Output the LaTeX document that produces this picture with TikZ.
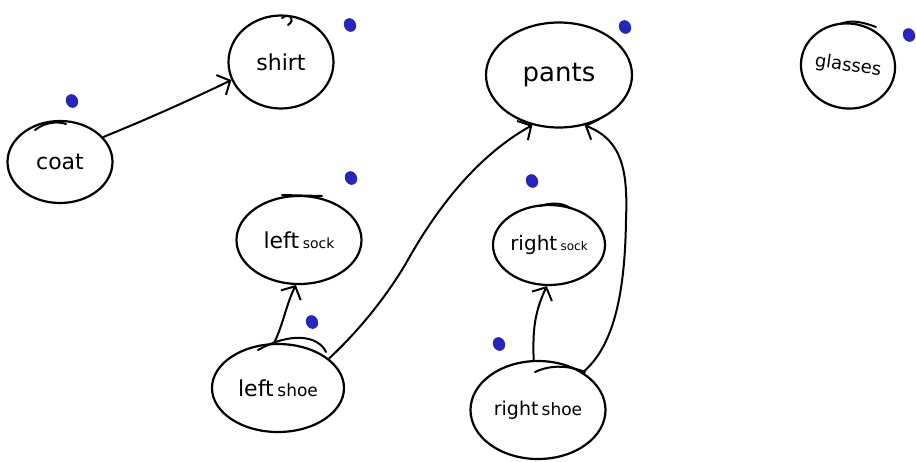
\documentclass[tikz,border=0pt]{standalone}
\usepackage{fontspec}
\setmainfont{DejaVu Sans}
\usetikzlibrary{shapes.geometric,arrows.meta}
\begin{document}
\begin{tikzpicture}[x=1pt,y=-1pt,
  garment/.style={draw, ellipse, line width=2.2pt, inner sep=0pt, font=\fontsize{22}{26}\selectfont},
  dep/.style={line width=2pt, -{Straight Barb[length=10pt,width=22pt,line width=2pt]}},
  dot/.style={fill=blue!70!black!85, draw=none},
  stroke/.style={line width=2pt, line cap=round}]
\useasboundingbox (0,0) rectangle (916,461);

% clothing items
\node[garment, minimum width=105pt, minimum height=93pt] (shirt) at (281,62) {shirt};
\node[garment, minimum width=146pt, minimum height=105pt, font=\fontsize{26}{30}\selectfont] (pants) at (559,75) {pants};
\node[garment, minimum width=93pt, minimum height=85pt, rotate=-8, font=\fontsize{18}{21}\selectfont] (glasses) at (848,66) {glasses};
\node[garment, minimum width=105pt, minimum height=82pt] (coat) at (60,162) {coat};
\node[garment, minimum width=125pt, minimum height=88pt] (lsock) at (299,240) {left\,{\fontsize{14}{16}\selectfont sock}};
\node[garment, minimum width=112pt, minimum height=80pt, font=\fontsize{20}{24}\selectfont] (rsock) at (549,245) {right\,{\fontsize{12}{14}\selectfont sock}};
\node[garment, minimum width=132pt, minimum height=88pt] (lshoe) at (278,388) {left\,{\fontsize{17}{19}\selectfont shoe}};
\node[garment, minimum width=135pt, minimum height=98pt, font=\fontsize{19}{22}\selectfont] (rshoe) at (538,410) {right\,{\fontsize{17}{19}\selectfont shoe}};

% pen marks over the outlines
\draw[stroke] (35,130) .. controls (45,122) and (58,121) .. (66,124);
\draw[stroke] (258,350) .. controls (290,332) and (318,335) .. (326,352);
\draw[stroke] (535,372) .. controls (552,364) and (570,366) .. (585,372);
\draw[stroke] (540,206) .. controls (552,202) and (563,203) .. (570,208);
\draw[stroke] (282,195) -- (322,196);
\draw[stroke] (282,18) .. controls (290,12) and (296,20) .. (288,25);
\draw[stroke] (840,24) .. controls (850,20) and (860,21) .. (876,27);

% finished-order dots
\foreach \p/\n in {(72,101)/d1,(350,25)/d2,(625,27)/d3,(909,35)/d4,(351,178)/d5,(532,181)/d6,(312,322)/d7,(499,344)/d8}
  \node[dot, ellipse, minimum width=12pt, minimum height=14pt, inner sep=0pt, rotate=25] (\n) at \p {};

% dependencies
\draw[dep] (coat.30) .. controls (150,118) and (190,100) .. (shirt.200);
\draw[dep] (lshoe.95) .. controls (283,325) and (286,305) .. (lsock.266);
\draw[dep] (lshoe.30) .. controls (365,325) and (390,290) .. (405,265) .. controls (430,220) and (470,160) .. (pants.242);
\draw[dep] (rshoe.95) .. controls (533,335) and (533,315) .. (rsock.267);
\draw[dep] (rshoe.40) .. controls (615,345) and (625,290) .. (626,220) .. controls (628,170) and (622,140) .. (pants.297);
\end{tikzpicture}
\end{document}
